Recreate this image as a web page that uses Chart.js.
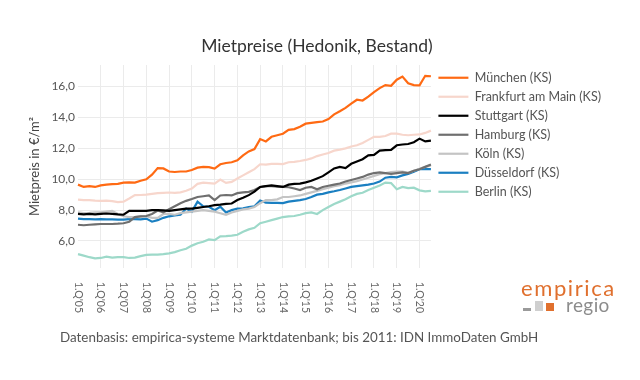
<!DOCTYPE html>
<html lang="de">
<head>
<meta charset="utf-8">
<script src="https://cdn.jsdelivr.net/npm/chart.js@4.4.1/dist/chart.umd.min.js"></script>
<style>
  html, body { margin: 0; padding: 0; background: #fff; }
  #wrap { position: relative; width: 640px; height: 380px; font-family: Lato, sans-serif; }
  #source { position: absolute; left: 60px; top: 329px; font-size: 13.4px; color: #555; white-space: nowrap; }
  .logo { position: absolute; }
  .brand { left: 521px; top: 274px; font-size: 22px; color: #e0702e; letter-spacing: 1.6px; }
  .sub { left: 566px; top: 293px; font-size: 19px; color: #8c8c8c; letter-spacing: 0.4px; }
  .sq { position: absolute; }
</style>
</head>
<body>
<div id="wrap">
  <canvas id="chart" width="640" height="380"></canvas>
  <div id="source">Datenbasis: empirica-systeme Marktdatenbank; bis 2011: IDN ImmoDaten GmbH</div>
  <div class="logo brand">empirica</div>
  <div class="logo sub">regio</div>
  <div class="sq" style="left:523px;top:308px;width:8px;height:3px;background:#9a9a9a"></div>
  <div class="sq" style="left:535px;top:301px;width:8px;height:10px;background:#cfcfcf"></div>
  <div class="sq" style="left:546px;top:303px;width:8px;height:8px;background:#e0702e"></div>
</div>
<script>
const years = ['05','06','07','08','09','10','11','12','13','14','15','16','17','18','19','20'];
const quarters = [];
years.forEach(y => [1, 2, 3, 4].forEach(q => quarters.push(q + ".Q'" + y)));
quarters.length = 63; // bis 3.Q'20

const yTicks = [6, 8, 10, 12, 14, 16];

const muenchen = [
  9.65, 9.5, 9.55, 9.5, 9.6, 9.65, 9.68, 9.7, 9.78, 9.8, 9.78, 9.9,
  10.0, 10.3, 10.72, 10.7, 10.5, 10.47, 10.5, 10.5, 10.6, 10.75, 10.8, 10.78,
  10.69, 10.97, 11.05, 11.1, 11.23, 11.55, 11.8, 11.95, 12.6, 12.45, 12.75, 12.85,
  12.95, 13.2, 13.25, 13.4, 13.6, 13.65, 13.7, 13.74, 13.9, 14.2, 14.4, 14.62,
  14.9, 15.15, 15.1, 15.35, 15.64, 15.9, 16.1, 16.05, 16.45, 16.65, 16.22, 16.1,
  16.08, 16.7, 16.67
];
const frankfurt = [
  8.68, 8.65, 8.65, 8.62, 8.6, 8.62, 8.58, 8.52, 8.55, 8.75, 8.97, 8.98,
  9.0, 9.05, 9.1, 9.12, 9.14, 9.12, 9.15, 9.25, 9.4, 9.7, 9.78, 9.75,
  9.72, 9.98, 9.76, 9.83, 10.05, 10.25, 10.45, 10.65, 10.97, 10.95, 11.0, 11.0,
  10.98, 11.1, 11.12, 11.18, 11.25, 11.35, 11.5, 11.6, 11.7, 11.85, 11.92, 12.0,
  12.12, 12.2, 12.35, 12.55, 12.75, 12.75, 12.8, 12.95, 12.95, 12.88, 12.85, 12.88,
  12.9, 13.0, 13.15
];
const stuttgart = [
  7.75, 7.72, 7.75, 7.72, 7.75, 7.78, 7.75, 7.72, 7.7, 7.95, 7.95, 7.95,
  7.95, 8.0, 8.0, 7.98, 7.95, 8.0, 8.05, 8.1, 8.1, 8.15, 8.2, 8.25,
  8.32, 8.35, 8.4, 8.43, 8.65, 8.8, 8.97, 9.2, 9.5, 9.55, 9.6, 9.55,
  9.5, 9.65, 9.7, 9.72, 9.8, 9.9, 10.05, 10.2, 10.45, 10.7, 10.8, 10.72,
  11.0, 11.15, 11.3, 11.55, 11.58, 11.85, 11.88, 11.9, 12.2, 12.25, 12.28, 12.4,
  12.63, 12.45, 12.5
];
const hamburg = [
  7.05, 7.02, 7.05, 7.08, 7.1, 7.1, 7.1, 7.12, 7.15, 7.25, 7.55, 7.6,
  7.62, 7.75, 7.97, 7.85, 8.05, 8.25, 8.45, 8.6, 8.72, 8.85, 8.9, 8.95,
  8.65, 8.95, 8.98, 8.95, 9.1, 9.15, 9.18, 9.3, 9.5, 9.55, 9.55, 9.52,
  9.5, 9.48, 9.4, 9.3, 9.45, 9.5, 9.35, 9.5, 9.58, 9.65, 9.72, 9.85,
  9.95, 10.05, 10.15, 10.3, 10.4, 10.45, 10.4, 10.35, 10.4, 10.45, 10.4, 10.55,
  10.65, 10.8, 10.95
];
const koeln = [
  7.85, 7.8, 7.82, 7.85, 7.85, 7.9, 7.95, 7.75, 7.6, 7.55, 7.55, 7.6,
  7.6, 7.5, 7.5, 7.75, 7.75, 7.7, 7.8, 7.85, 7.9, 7.95, 8.0, 7.95,
  7.9, 7.8, 7.7, 7.85, 7.95, 8.05, 8.1, 8.2, 8.45, 8.65, 8.65, 8.7,
  8.85, 8.85, 8.9, 8.95, 9.05, 9.15, 9.25, 9.35, 9.45, 9.55, 9.62, 9.72,
  9.8, 9.88, 9.98, 10.1, 10.22, 10.32, 10.4, 10.47, 10.5, 10.5, 10.42, 10.55,
  10.68, 10.8, 10.9
];
const duesseldorf = [
  7.45, 7.42, 7.42, 7.4, 7.42, 7.4, 7.4, 7.38, 7.38, 7.42, 7.42, 7.4,
  7.45, 7.25, 7.35, 7.5, 7.6, 7.65, 7.7, 8.1, 7.9, 8.55, 8.25, 8.22,
  8.0, 8.22, 7.85, 8.0, 8.1, 8.12, 8.2, 8.25, 8.62, 8.48, 8.47, 8.47,
  8.45, 8.55, 8.6, 8.65, 8.72, 8.85, 9.0, 9.05, 9.15, 9.22, 9.3, 9.4,
  9.5, 9.55, 9.6, 9.65, 9.72, 9.85, 10.1, 10.15, 10.12, 10.25, 10.35, 10.48,
  10.65, 10.65, 10.65
];
const berlin = [
  5.15, 5.05, 4.95, 4.88, 4.9, 4.98, 4.92, 4.95, 4.95, 4.9, 4.92, 5.02,
  5.1, 5.12, 5.12, 5.15, 5.2, 5.28, 5.4, 5.5, 5.7, 5.85, 5.95, 6.1,
  6.05, 6.3, 6.32, 6.35, 6.4, 6.6, 6.75, 6.85, 7.15, 7.25, 7.35, 7.45,
  7.55, 7.6, 7.62, 7.7, 7.8, 7.85, 7.75, 8.0, 8.2, 8.4, 8.55, 8.7,
  8.9, 9.05, 9.12, 9.3, 9.45, 9.6, 9.78, 9.75, 9.35, 9.5, 9.42, 9.45,
  9.28, 9.22, 9.25
];

const seriesNames = ['München (KS)', 'Frankfurt am Main (KS)', 'Stuttgart (KS)', 'Hamburg (KS)', 'Köln (KS)', 'Düsseldorf (KS)', 'Berlin (KS)'];
const seriesData = [muenchen, frankfurt, stuttgart, hamburg, koeln, duesseldorf, berlin];
const seriesColors = ['#ff6a13', '#f7d6cc', '#000000', '#6f6f6f', '#c4c4c4', '#1a7fc1', '#9dd9c9'];

// x-Achsenbeschriftung gedreht (von oben nach unten lesbar), nur 1. Quartal
const quarterLabels = {
  id: 'quarterLabels',
  afterLayout(chart) {
    // Legende etwas vom Plot abrücken, Titel über die ganze Breite zentrieren
    chart.legend.left += 1;
    chart.titleBlock.left = 0;
    chart.titleBlock.right = 634;
  },
  afterDraw(chart) {
    const xs = chart.scales.x;
    const ctx = chart.ctx;
    ctx.save();
    ctx.font = '10.5px Lato';
    ctx.fillStyle = '#666';
    ctx.textAlign = 'left';
    ctx.textBaseline = 'middle';
    xs.ticks.forEach((t, i) => {
      if (i % 4 !== 0) return;
      ctx.save();
      ctx.translate(xs.getPixelForTick(i), chart.chartArea.bottom + 14);
      ctx.rotate(Math.PI / 2);
      ctx.fillText(quarters[i], 0, 0);
      ctx.restore();
    });
    ctx.restore();
  }
};

const ctx = document.getElementById('chart').getContext('2d');
new Chart(ctx, {
  type: 'line',
  data: {
    labels: quarters,
    datasets: seriesNames.map((name, k) => ({
      label: name,
      data: seriesData[k],
      borderColor: seriesColors[k],
      backgroundColor: seriesColors[k],
      borderWidth: 2.2,
      pointRadius: 0,
      tension: 0,
      fill: false
    }))
  },
  options: {
    responsive: false,
    animation: false,
    layout: { padding: { left: 0, right: 30, top: 0, bottom: 112 } },
    plugins: {
      title: {
        display: true,
        text: 'Mietpreise (Hedonik, Bestand)',
        color: '#333',
        font: { family: 'Lato', size: 17.5, weight: 'normal' },
        padding: { top: 36, bottom: 8 }
      },
      legend: {
        position: 'right',
        align: 'start',
        fullSize: false,
        maxWidth: 220,
        labels: {
          usePointStyle: true,
          pointStyle: 'line',
          pointStyleWidth: 30,
          boxHeight: 11,
          padding: 6.5,
          color: '#555',
          font: { family: 'Lato', size: 12.5 }
        }
      },
      tooltip: { enabled: false }
    },
    scales: {
      x: {
        ticks: { display: false, autoSkip: false },
        grid: {
          drawTicks: false,
          color: c => (c.index % 4 === 0 && c.index > 0) ? '#ebebeb' : 'rgba(0,0,0,0)'
        },
        border: { display: false }
      },
      y: {
        min: 4.25,
        max: 17.4,
        afterBuildTicks: s => { s.ticks = yTicks.map(v => ({ value: v })); },
        afterFit: s => { s.width = 78; },
        ticks: {
          color: '#555',
          padding: 3,
          font: { family: 'Lato', size: 12 },
          callback: v => v.toFixed(1).replace('.', ',')
        },
        grid: { drawTicks: false, color: '#ebebeb' },
        border: { display: false },
        title: {
          display: true,
          text: 'Mietpreis in €/m²',
          color: '#444',
          font: { family: 'Lato', size: 13 },
          padding: { top: 27, bottom: 0 }
        }
      }
    }
  },
  plugins: [quarterLabels]
});
</script>
</body>
</html>
